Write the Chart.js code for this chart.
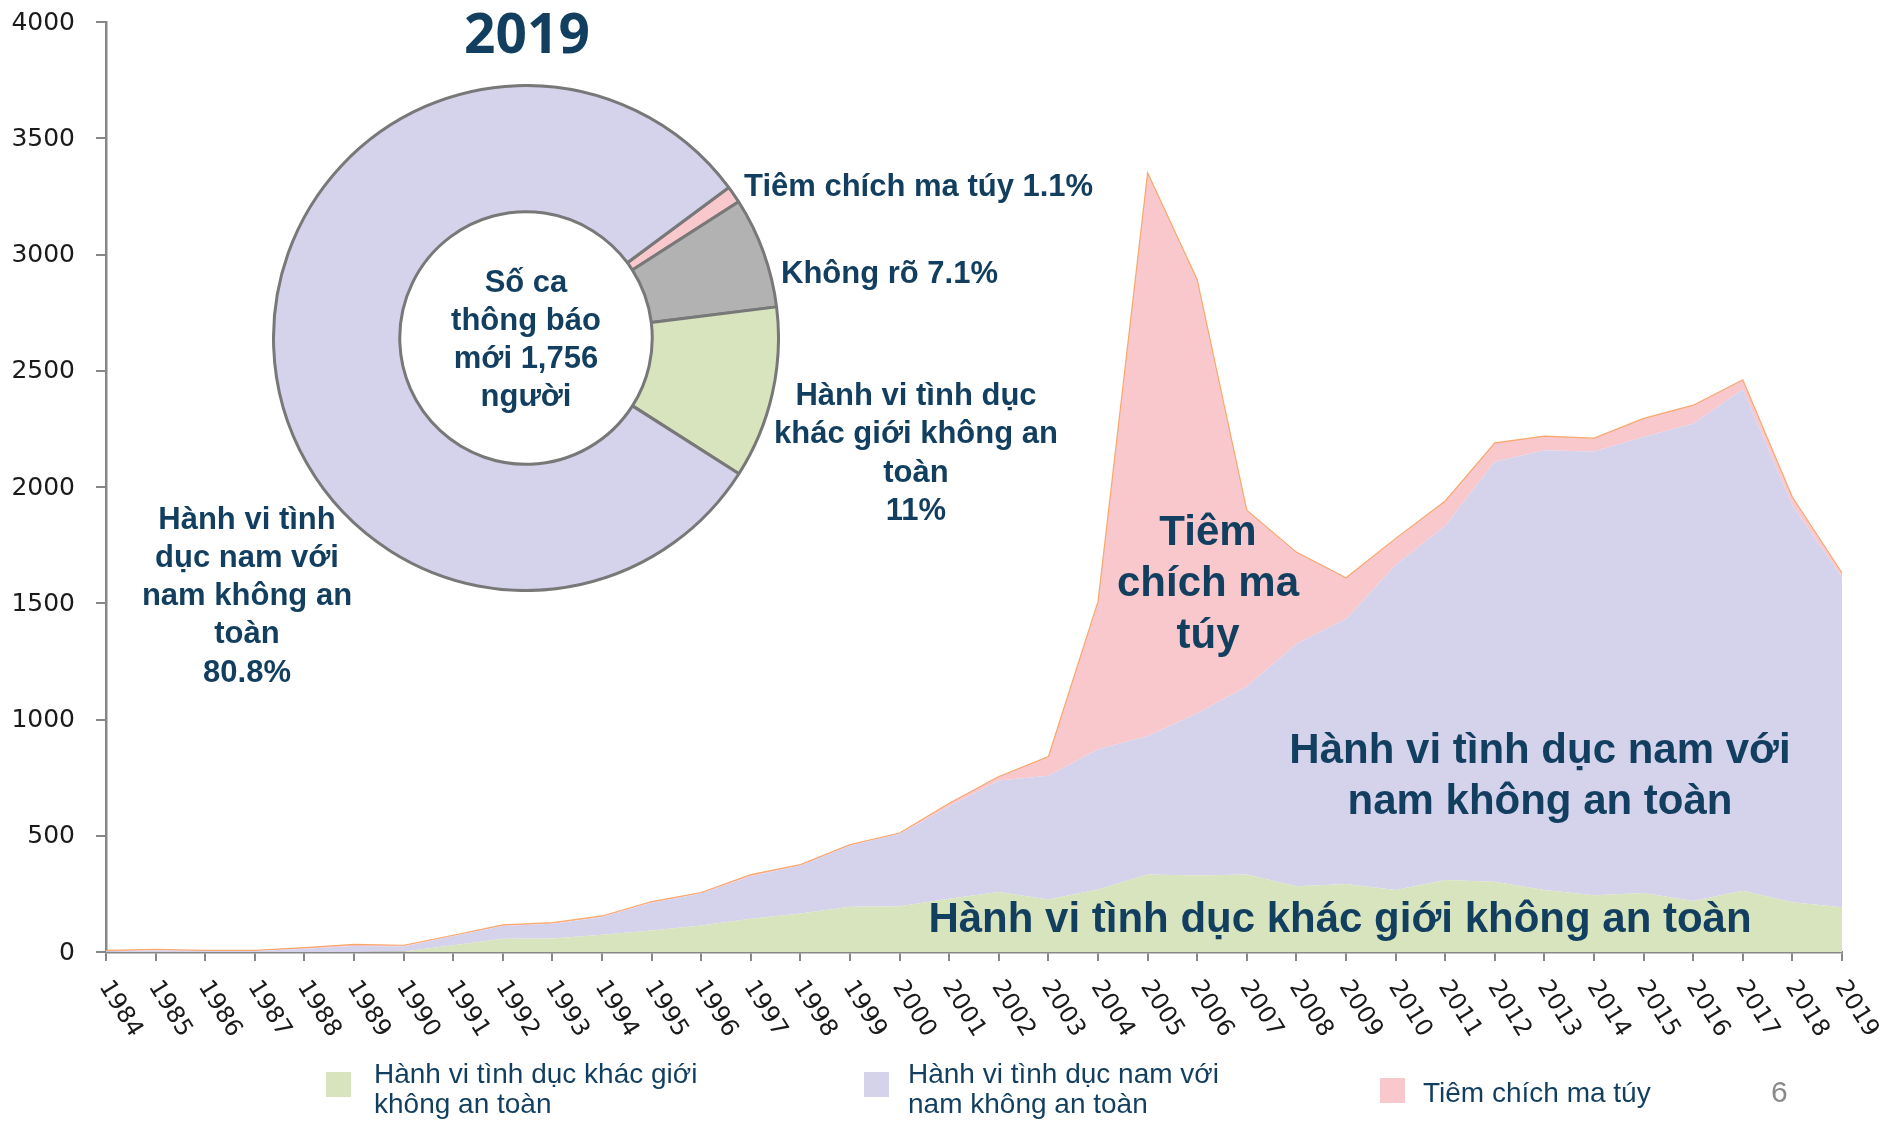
<!DOCTYPE html>
<html>
<head>
<meta charset="utf-8">
<script src="https://cdn.jsdelivr.net/npm/chart.js@4.4.0/dist/chart.umd.min.js"></script>
<style>
html,body{margin:0;padding:0;background:#fff;}
#wrap{position:relative;width:1881px;height:1121px;overflow:hidden;}
#main{position:absolute;left:0;top:0;}
#donut{position:absolute;left:272px;top:84px;}
</style>
</head>
<body>
<div id="wrap">
<canvas id="main" width="1881" height="1121"></canvas>
<canvas id="donut" width="508" height="508"></canvas>
</div>
<script>
// ---- data ----
const years = ['1984','1985','1986','1987','1988','1989','1990','1991','1992','1993',
  '1994','1995','1996','1997','1998','1999','2000','2001','2002','2003',
  '2004','2005','2006','2007','2008','2009','2010','2011','2012','2013',
  '2014','2015','2016','2017','2018','2019'];
const heteroSex = [0,0,0,0,0,0,2,29,57,58,
  74,93,114,143,166,195,197,229,258,226,
  269,333,329,333,283,292,267,310,302,267,
  244,254,219,263,214,193];
const msmSex = [3,6,4,4,14,26,22,40,55,64,
  76,119,138,183,206,263,312,398,480,532,
  603,595,698,809,1042,1140,1397,1523,1807,1891,
  1909,1961,2053,2157,1708,1419];
const injectDrug = [4,5,3,3,5,7,5,3,5,4,
  5,5,4,7,4,4,3,13,17,83,
  636,2424,1866,758,395,178,115,107,81,61,
  57,80,80,41,35,19];
const seriesNames = ['Hành vi tình dục khác giới không an toàn',
  'Hành vi tình dục nam với nam không an toàn',
  'Tiêm chích ma túy'];
const yMin = 0, yMax = 4000, yStep = 500;

const pieLabels = ['Tiêm chích ma túy', 'Không rõ', 'Hành vi tình dục khác giới không an toàn', 'Hành vi tình dục nam với nam không an toàn'];
const pieValues = [1.1, 7.1, 11, 80.8];
const pieYear = '2019';
const pieTotal = '1,756';

// ---- styles ----
const GREEN = '#D8E4BE', PURPLE = '#D5D2EC', PINK = '#F9C8CD', GRAY = '#B2B2B2', ORANGE = 'rgba(247,150,70,0.75)';
const NAVY = '#123F5F';
const AXIS = '#878787';

const annotate = {
  id: 'annotate',
  afterDraw(chart) {
    const ctx = chart.ctx;
    const xs = chart.scales.x;
    const ys = chart.scales.y;
    ctx.save();
    // y labels
    ctx.font = '25px "DejaVu Sans"';
    ctx.fillStyle = '#1a1a1a';
    ctx.textAlign = 'right';
    ctx.textBaseline = 'middle';
    ys.ticks.forEach(t => ctx.fillText(String(t.value), 75, ys.getPixelForValue(t.value) + 1));

    // rotated x labels
    ctx.font = '24px "DejaVu Sans"';
    ctx.textAlign = 'left';
    const by = chart.chartArea.bottom + 31;
    years.forEach((y, i) => {
      const x = xs.getPixelForValue(i);
      ctx.save();
      ctx.translate(x - 2, by);
      ctx.rotate(58 * Math.PI / 180);
      ctx.fillText(y, 0, 0);
      ctx.restore();
    });

    // title of donut
    ctx.fillStyle = NAVY;
    ctx.textAlign = 'center';
    ctx.textBaseline = 'alphabetic';
    ctx.font = 'bold 55px "Open Sans"';
    ctx.fillText(pieYear, 527, 53);

    // donut labels
    ctx.font = 'bold 31px "Liberation Sans"';
    ctx.textBaseline = 'middle';
    ctx.textAlign = 'left';
    ctx.fillText(pieLabels[0] + ' ' + pieValues[0] + '%', 744, 187);
    ctx.fillText(pieLabels[1] + ' ' + pieValues[1] + '%', 781, 274);
    ctx.textAlign = 'center';
    ['Hành vi tình dục', 'khác giới không an', 'toàn', pieValues[2] + '%'].forEach((t, i) => ctx.fillText(t, 916, 396 + i * 38.5));
    ['Hành vi tình', 'dục nam với', 'nam không an', 'toàn', pieValues[3] + '%'].forEach((t, i) => ctx.fillText(t, 247, 520 + i * 38.3));

    // area labels
    ctx.font = 'bold 42px "Liberation Sans"';
    ['Tiêm', 'chích ma', 'túy'].forEach((t, i) => ctx.fillText(t, 1208, 533 + i * 51.5));
    ['Hành vi tình dục nam với', 'nam không an toàn'].forEach((t, i) => ctx.fillText(t, 1540, 751 + i * 51));
    ctx.fillText(seriesNames[0], 1340, 920);

    // legend
    ctx.font = '28px "Liberation Sans"';
    ctx.textAlign = 'left';
    ctx.textBaseline = 'alphabetic';
    const leg = [
      {lines: ['Hành vi tình dục khác giới', 'không an toàn'], color: GREEN, bx: 326, by: 1072, tx: 374, ty: 1083},
      {lines: ['Hành vi tình dục nam với', 'nam không an toàn'], color: PURPLE, bx: 864, by: 1072, tx: 908, ty: 1083},
      {lines: [seriesNames[2]], color: PINK, bx: 1380, by: 1078, tx: 1423, ty: 1102}
    ];
    leg.forEach(l => {
      ctx.fillStyle = l.color;
      ctx.fillRect(l.bx, l.by, 25, 25);
      ctx.fillStyle = NAVY;
      l.lines.forEach((t, i) => ctx.fillText(t, l.tx, l.ty + i * 29.5));
    });
    ctx.fillStyle = '#8a8a8a';
    ctx.font = '30px "Liberation Sans"';
    ctx.fillText('6', 1771, 1102);
    ctx.restore();
  }
};

new Chart(document.getElementById('main'), {
  type: 'line',
  data: {
    labels: years,
    datasets: [
      {label: seriesNames[0], data: heteroSex, backgroundColor: GREEN, borderColor: 'rgba(0,0,0,0)', borderWidth: 1, fill: 'origin', pointRadius: 0, tension: 0},
      {label: seriesNames[1], data: msmSex, backgroundColor: PURPLE, borderColor: 'rgba(0,0,0,0)', borderWidth: 1, fill: '-1', pointRadius: 0, tension: 0},
      {label: seriesNames[2], data: injectDrug, backgroundColor: PINK, borderColor: ORANGE, borderWidth: 1.2, fill: '-1', pointRadius: 0, tension: 0}
    ]
  },
  options: {
    responsive: false,
    animation: false,
    events: [],
    layout: {padding: {top: 22, right: 39, bottom: 0, left: 0}},
    plugins: {legend: {display: false}, tooltip: {enabled: false}, title: {display: false}},
    scales: {
      x: {
        offset: false,
        grid: {display: true, drawOnChartArea: false, drawTicks: true, tickLength: 9, color: AXIS, lineWidth: 2},
        border: {display: true, color: AXIS, width: 2.5},
        ticks: {color: 'rgba(0,0,0,0)', autoSkip: false, maxRotation: 0, minRotation: 0, font: {size: 8}},
        afterFit(s) { s.height = 169; }
      },
      y: {
        stacked: true,
        min: yMin, max: yMax,
        grid: {display: true, drawOnChartArea: false, drawTicks: true, tickLength: 10, color: AXIS, lineWidth: 2},
        border: {display: true, color: AXIS, width: 2.5},
        ticks: {stepSize: yStep, padding: 0, color: 'rgba(0,0,0,0)', font: {size: 8}, callback: v => String(v)},
        afterFit(s) { s.width = 106; }
      }
    }
  },
  plugins: [annotate]
});

const centerText = {
  id: 'centerText',
  afterDraw(chart) {
    const ctx = chart.ctx;
    const a = chart.getDatasetMeta(0).data[0];
    ctx.save();
    ctx.fillStyle = NAVY;
    ctx.font = 'bold 31px "Liberation Sans"';
    ctx.textAlign = 'center';
    ctx.textBaseline = 'middle';
    ['Số ca', 'thông báo', 'mới ' + pieTotal, 'người'].forEach((t, i) => ctx.fillText(t, a.x, a.y - 55 + i * 38));
    ctx.restore();
  }
};

new Chart(document.getElementById('donut'), {
  type: 'doughnut',
  data: {
    labels: pieLabels,
    datasets: [{data: pieValues, backgroundColor: [PINK, GRAY, GREEN, PURPLE], borderColor: '#787878', borderWidth: 3}]
  },
  options: {
    responsive: false,
    animation: false,
    events: [],
    rotation: 53.4,
    cutout: '50%',
    layout: {padding: 0},
    plugins: {legend: {display: false}, tooltip: {enabled: false}}
  },
  plugins: [centerText]
});
</script>
</body>
</html>
